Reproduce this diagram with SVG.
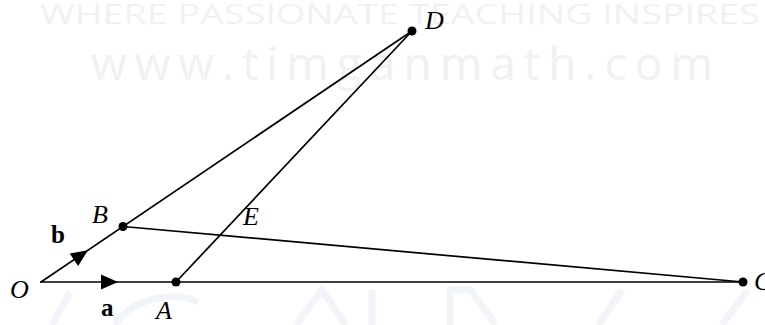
<svg xmlns="http://www.w3.org/2000/svg" width="765" height="325" viewBox="0 0 765 325">
<defs>
<style>
.wm{font-family:"Open Sans","DejaVu Sans",sans-serif;fill:#f1f1f1;}
.logo{fill:none;stroke:#f1f4f8;stroke-width:7;}
.ln{stroke:#000;stroke-width:1.7;fill:none;stroke-linecap:round;}
.pt{fill:#000;}
.lbl{font-family:"Liberation Serif","Times New Roman",serif;font-style:italic;font-size:26px;fill:#000;}
.vec{font-family:"Liberation Serif","Times New Roman",serif;font-weight:bold;font-size:25px;fill:#000;}
</style>
<path id="ah" d="M0,0 L-17,-7.5 L-17,7.5 Z" fill="#000"/>
</defs>
<rect width="765" height="325" fill="#fff"/>
<g id="watermark">
<text class="wm" x="40" y="24" font-size="27" textLength="720" lengthAdjust="spacingAndGlyphs">WHERE PASSIONATE TEACHING INSPIRES</text>
<text class="wm" x="91" y="80" font-size="46" textLength="622" lengthAdjust="spacing">www.timganmath.com</text>
<path class="logo" d="M52,325 L70,292 M115,325 C130,300 170,290 198,302 M296,325 L322,290 L346,325 M372,325 L372,290 M450,325 L450,290 L470,290 L496,325 M598,325 L622,290 M722,325 L748,290"/>
</g>
<g id="connectors">
<line class="ln" x1="41" y1="282" x2="743" y2="282"/>
<line class="ln" x1="41" y1="282" x2="412" y2="31"/>
<line class="ln" x1="176" y1="282" x2="412" y2="31"/>
<line class="ln" x1="123" y1="226.5" x2="743" y2="282"/>
<use href="#ah" transform="translate(118,282)"/>
<use href="#ah" transform="translate(88,250.2) rotate(-34.08)"/>
</g>
<g id="node-O"><text class="lbl" x="10" y="298">O</text></g>
<g id="node-A"><circle class="pt" cx="176" cy="282" r="4.5"/><text class="lbl" x="156" y="319">A</text></g>
<g id="node-B"><circle class="pt" cx="123" cy="226.5" r="4.5"/><text class="lbl" x="92" y="223">B</text></g>
<g id="node-D"><circle class="pt" cx="412" cy="31" r="4.5"/><text class="lbl" x="425" y="29">D</text></g>
<g id="node-C"><circle class="pt" cx="743" cy="282" r="4.5"/><text class="lbl" x="754" y="290">C</text></g>
<g id="node-E"><text class="lbl" x="243" y="225">E</text></g>
<g id="vec-b"><text class="vec" x="51" y="243">b</text></g>
<g id="vec-a"><text class="vec" x="101" y="316">a</text></g>
</svg>
